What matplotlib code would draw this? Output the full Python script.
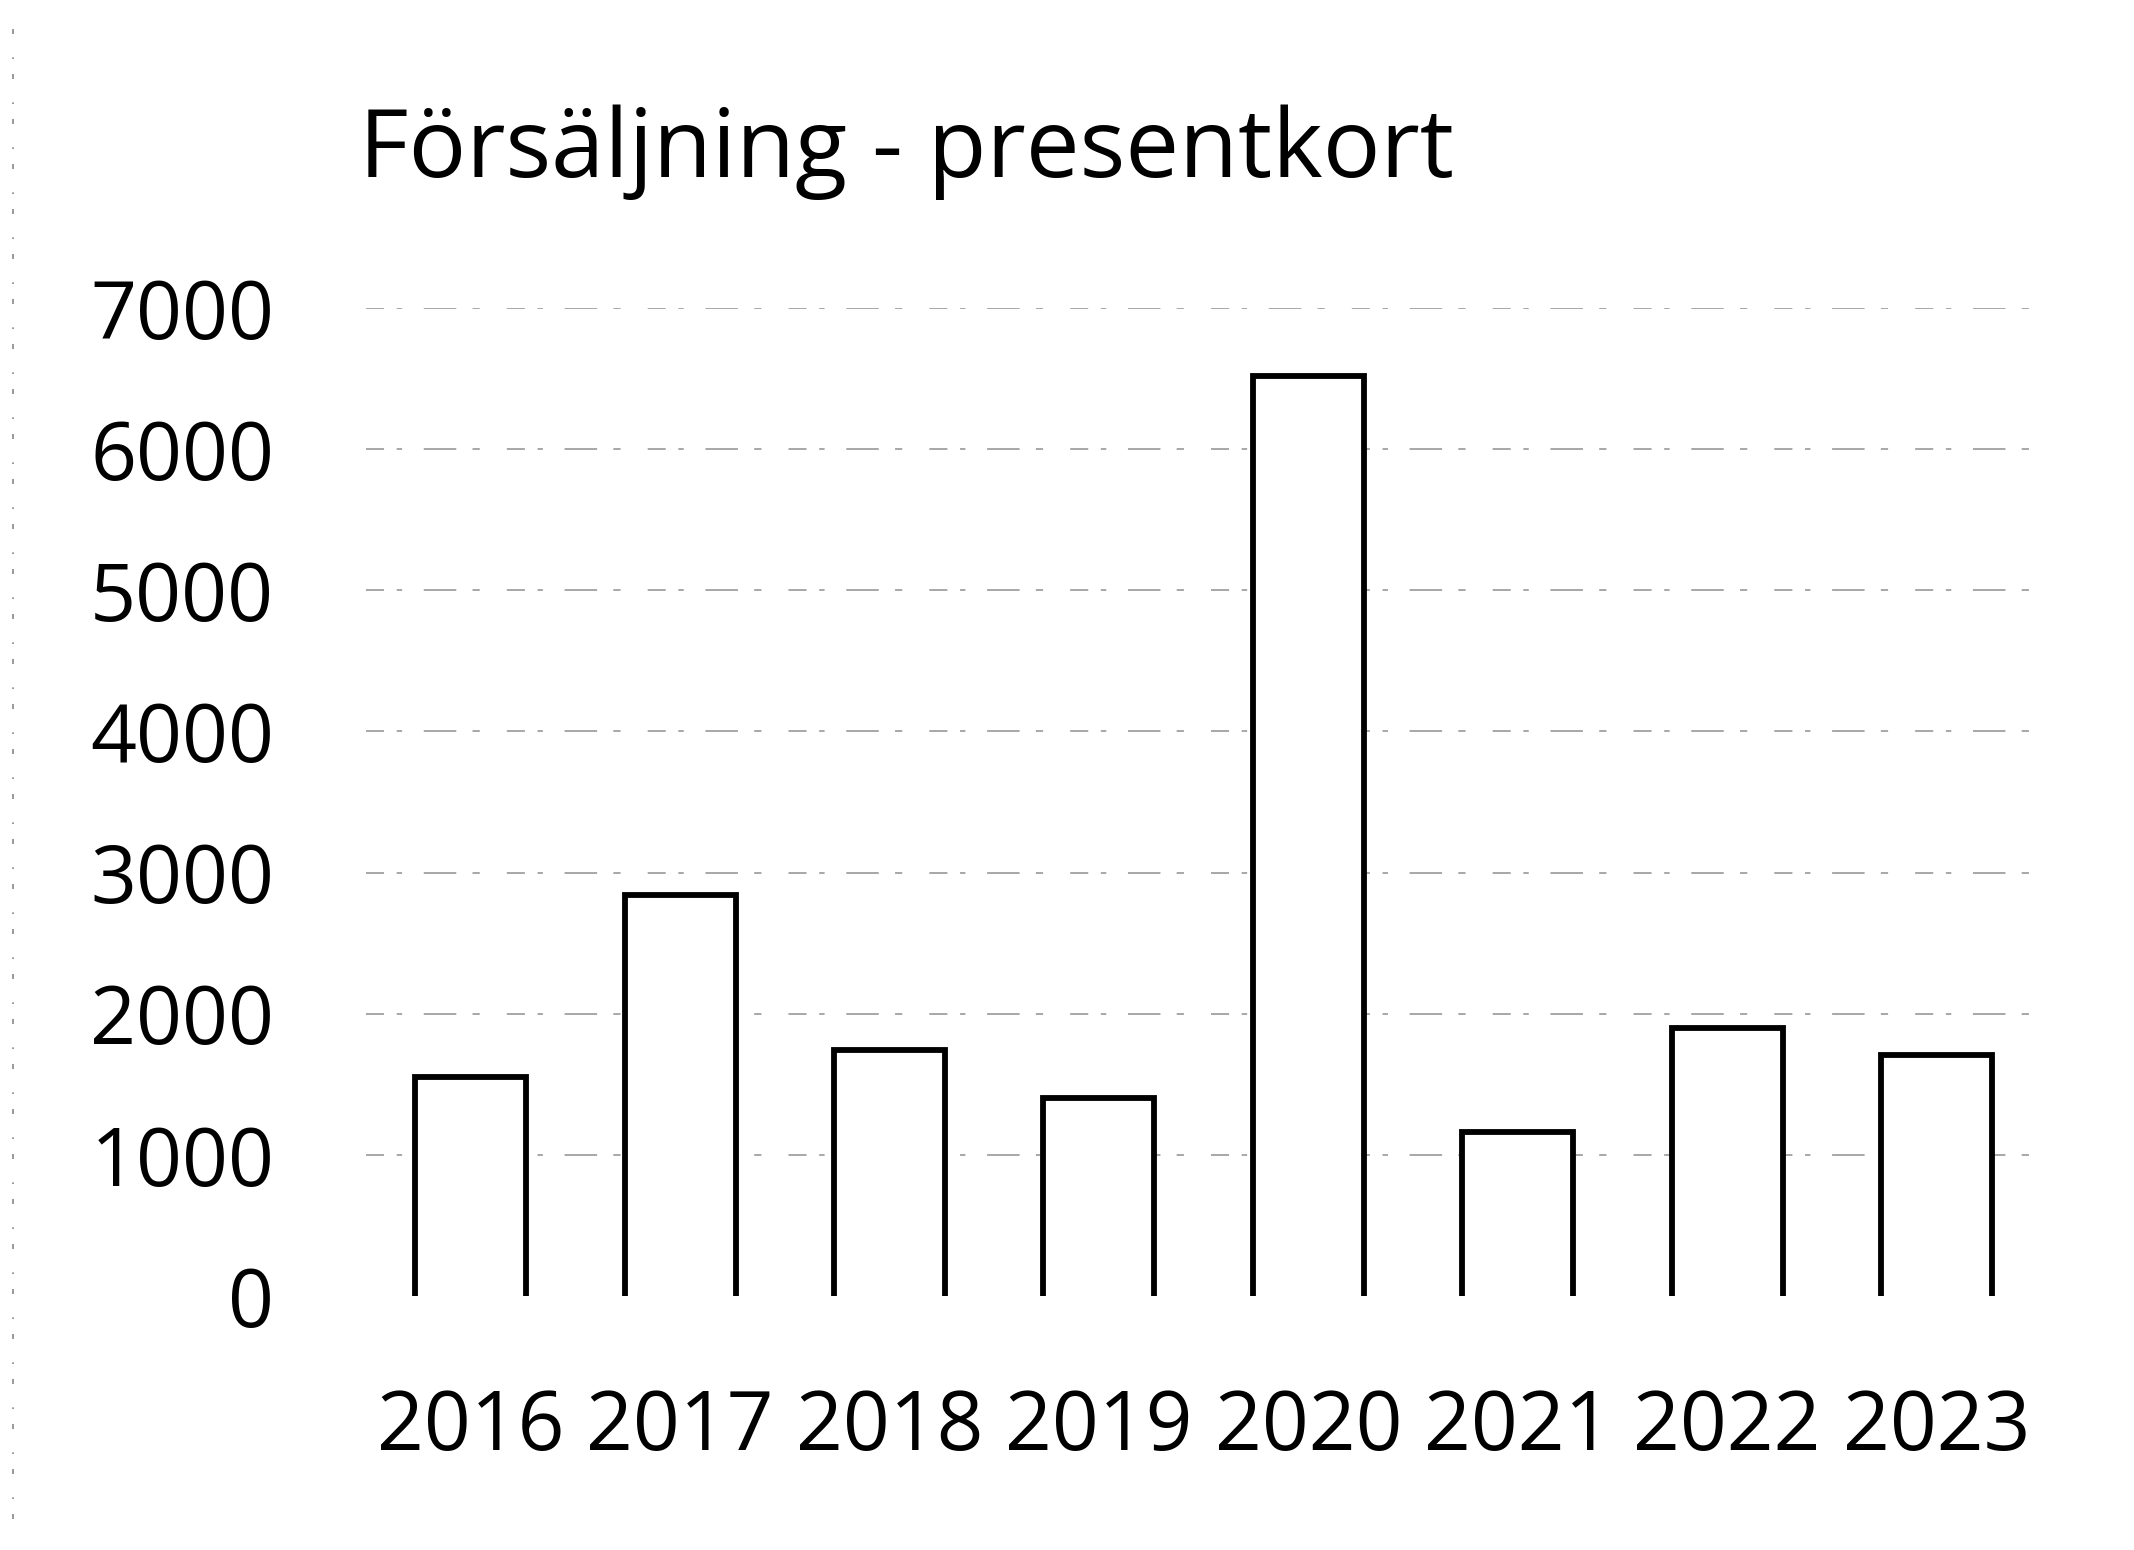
import matplotlib.pyplot as plt
from matplotlib.lines import Line2D

years = ["2016", "2017", "2018", "2019", "2020", "2021", "2022", "2023"]
sales = [1550, 2840, 1740, 1400, 6520, 1160, 1900, 1710]
y_ticks = [0, 1000, 2000, 3000, 4000, 5000, 6000, 7000]

plt.rcParams['font.family'] = ['Open Sans', 'DejaVu Sans']

fig = plt.figure(figsize=(21.34, 15.5), dpi=100, facecolor='white')
ax = fig.add_axes([0.1715, 0.1639, 0.785, 0.6374])

x = range(len(years))
bars = ax.bar(x, sales, width=0.53, color='white', edgecolor='none', zorder=2)

# kontur utan botten, som i den skannade bilden
for rect in bars:
    x0, w, h = rect.get_x(), rect.get_width(), rect.get_height()
    ax.plot([x0, x0, x0 + w, x0 + w], [0, h, h, 0], color='black',
            linewidth=4.2, solid_joinstyle='miter', zorder=3)

ax.set_xlim(-0.5, len(years) - 0.5)
ax.set_ylim(0, 7000)
ax.set_yticks(y_ticks)
ax.set_yticklabels([str(v) for v in y_ticks], fontsize=58)
ax.set_xticks(list(x))
ax.set_xticklabels(years, fontsize=59)
ax.tick_params(axis='y', length=0, pad=66)
ax.tick_params(axis='x', length=0, pad=66)

for v in y_ticks[1:]:
    ax.axhline(v, color='#a0a0a0', linewidth=1.3,
               linestyle=(0, (10, 7, 3, 12, 18, 9, 4, 15)), zorder=1)

for s in ax.spines.values():
    s.set_visible(False)

fig.text(0.168, 0.902, "Försäljning - presentkort", fontsize=69,
         ha='left', va='center')

# skanningsrand i vänsterkanten
fig.add_artist(Line2D([0.006, 0.006], [0.02, 0.99], color='#888888',
                      linewidth=1.2, linestyle=(0, (3, 9, 1, 14)),
                      transform=fig.transFigure))

fig.savefig("out.png", dpi=100, facecolor='white')
